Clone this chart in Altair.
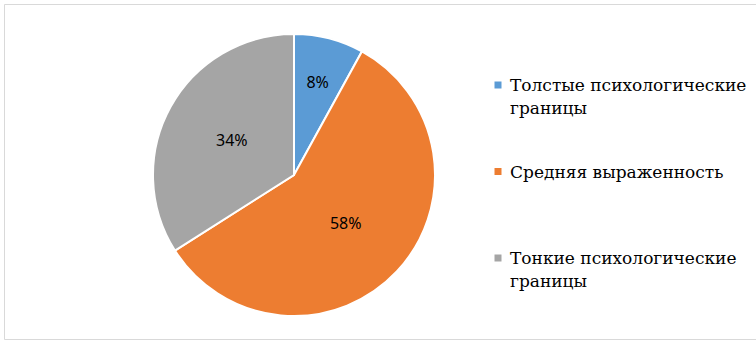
import altair as alt
import pandas as pd

categories = ["Толстые психологические границы", "Средняя выраженность", "Тонкие психологические границы"]
shares = [8, 58, 34]
pct_labels = ["8%", "58%", "34%"]
colors = ["#5B9BD5", "#ED7D31", "#A5A5A5"]


def wrap(s, limit=25):
    if len(s) > limit and " " in s:
        head, tail = s.rsplit(" ", 1)
        return head + "\n" + tail
    return s


df = pd.DataFrame({
    "category": categories,
    "share": shares,
    "label": pct_labels,
    "order": list(range(len(categories))),
    "legend_text": [wrap(c) for c in categories],
})

color = alt.Color("category:N", scale=alt.Scale(domain=categories, range=colors), legend=None)
theta = alt.Theta("share:Q", stack=True)
order = alt.Order("order:Q")
cx, cy = alt.value(290), alt.value(171)

base = alt.Chart(df)

pie = base.mark_arc(outerRadius=141, stroke="white", strokeWidth=2).encode(
    theta=theta, color=color, order=order, x=cx, y=cy
)

txt_in = base.mark_text(radius=71, font="Noto Sans", fontSize=16, color="#000000").encode(
    theta=theta, order=order, x=cx, y=cy,
    text=alt.condition(alt.datum.share >= 10, alt.Text("label:N"), alt.value("")),
)
txt_out = base.mark_text(radius=95, font="Noto Sans", fontSize=16, color="#000000").encode(
    theta=theta, order=order, x=cx, y=cy,
    text=alt.condition(alt.datum.share < 10, alt.Text("label:N"), alt.value("")),
)

ypos = alt.Y("category:N", sort=categories,
             scale=alt.Scale(domain=categories, range=[81, 254], padding=0), axis=None)

leg_sym = base.mark_square(size=49, opacity=1).encode(
    x=alt.value(494), y=ypos, color=color
)
leg_txt = base.mark_text(align="left", baseline="alphabetic", dy=6,
                         font="DejaVu Serif",
                         fontSize=17, lineHeight=23, lineBreak="\n", color="#000000").encode(
    x=alt.value(506), y=ypos, text="legend_text:N"
)

chart = alt.layer(pie, txt_in, txt_out, leg_sym, leg_txt).properties(
    width=752, height=335,
    padding={"left": 4, "top": 4, "right": 0, "bottom": 1},
    autosize=alt.AutoSizeParams(type="none"),
    background="white",
).configure_view(stroke="#D9D9D9", strokeWidth=1)

chart.save("out.html", embed_options={"renderer": "svg", "actions": False})
